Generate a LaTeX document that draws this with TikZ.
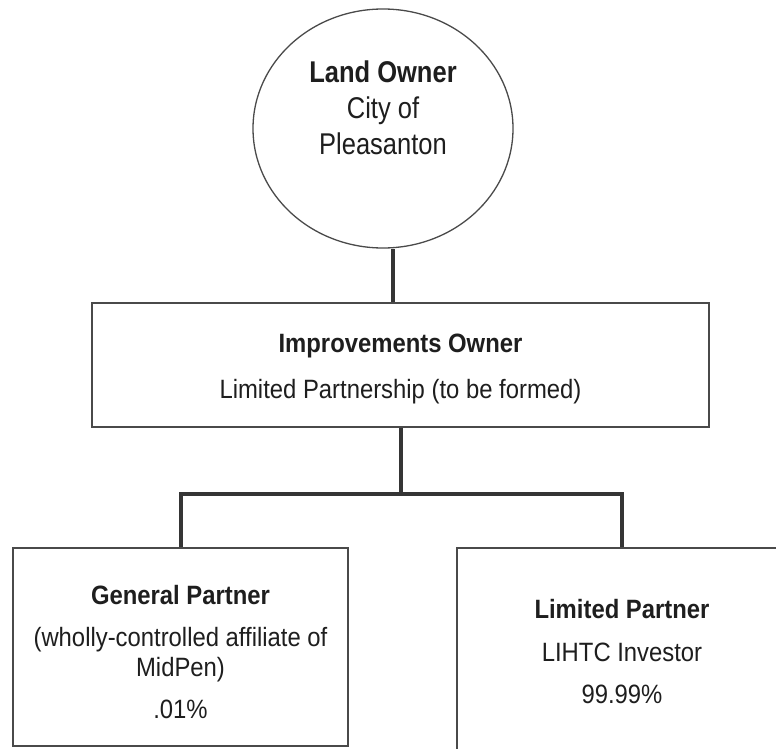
\documentclass[tikz,border=0pt]{standalone}
\usepackage{fontspec}
\setmainfont{Liberation Sans}[FakeStretch=0.9]
\newfontfamily\circfont{Liberation Sans}[FakeStretch=0.85]
\usetikzlibrary{shapes.geometric}
\definecolor{ink}{HTML}{1E1E1E}
\definecolor{frame}{HTML}{4A4A4A}
\definecolor{connc}{HTML}{353535}
\begin{document}
\begin{tikzpicture}[x=1pt,y=-1pt,
  box/.style={draw=frame,line width=1.3pt,rectangle,inner sep=0pt,align=center,text=ink,
              font=\fontsize{26.5}{30}\selectfont},
  conn/.style={draw=connc,line width=4pt,line join=miter}]
\useasboundingbox (0,0) rectangle (776,749);
\fill[white] (0,0) rectangle (776,749);
% land owner
\node[ellipse,draw=frame,line width=1.3pt,minimum width=260pt,minimum height=239pt,inner sep=0pt] (land) at (383,128.5) {};
\node[align=center,text=ink,font=\circfont\fontsize{30}{36}\selectfont] (landtxt) at (383,108) {\textbf{Land Owner}\\City of\\Pleasanton};
% improvements owner
\node[box,minimum width=617pt,minimum height=124pt] (impr) at (400.5,365)
  {\rule{0pt}{27pt}\textbf{Improvements Owner}\\[16pt]Limited Partnership (to be formed)};
% partners
\node[box,minimum width=335pt,minimum height=198pt] (gp) at (180.5,647)
  {\rule{0pt}{30pt}\textbf{General Partner}\\[12pt](wholly-controlled affiliate of\\MidPen)\\[12pt].01\%};
\node[box,minimum width=330pt,minimum height=207pt] (lp) at (622,651.5)
  {\textbf{Limited Partner}\\[13pt]LIHTC Investor\\[12pt]99.99\%};
% connectors
\coordinate (j) at (401,494);
\draw[conn] ([xshift=10pt]land.south) -- ([xshift=-7.5pt]impr.north);
\draw[conn] (impr.south) -- (impr.south |- j);
\draw[conn] (gp.north) |- (j) -| (lp.north);
\end{tikzpicture}
\end{document}
